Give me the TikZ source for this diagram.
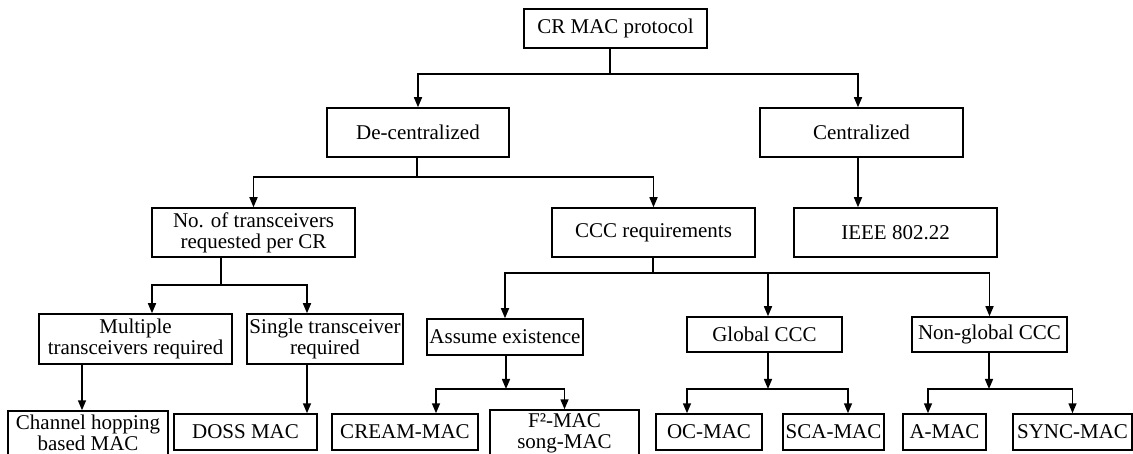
\documentclass[tikz,border=0pt]{standalone}
\usepackage{fontspec}
\setmainfont{Liberation Serif}
\usetikzlibrary{arrows.meta,positioning}

\begin{document}
\begin{tikzpicture}[
  x=1pt, y=-1pt,
  box/.style 2 args={draw, line width=1.5pt, align=center, inner sep=0pt,
    minimum width=#1pt, minimum height=#2pt, font=\fontsize{21}{21}\selectfont},
  arr/.style={-{Triangle[length=10pt,width=8pt]}, line width=1.5pt},
  ln/.style={line width=1.5pt}
]
  \useasboundingbox (0,0) rectangle (1133,454);
  \clip (0,0) rectangle (1133,454);

  \node[box={183}{39}] (root) at (615.5,28.5) {CR MAC protocol};
  \node[box={182}{49}] (dec) at (418,132.5) {De-centralized};
  \node[box={203}{49}] (cen) at (861.5,132.5) {Centralized};
  \node[box={203}{49}] (ntr) at (253.5,232.5) {No. of transceivers\\requested per CR};
  \node[box={203}{49}] (ccc) at (653.5,232.5) {CCC requirements};
  \node[box={203}{49}] (ieee) at (895.5,232.5) {IEEE 802.22};
  \node[box={193}{50}] (mul) at (135.5,339) {Multiple\\transceivers required};
  \node[box={156}{50}] (sgl) at (325,339) {Single transceiver\\required};
  \node[box={156}{36}] (ass) at (505,337) {Assume existence};
  \node[box={155}{35}] (glb) at (764.5,334.5) {Global CCC};
  \node[box={155}{35}] (ngl) at (989.5,334.5) {Non-global CCC};
  \node[box={160}{44}] (chop) at (88,433) {Channel hopping\\based MAC};
  \node[box={143}{36}] (doss) at (245.5,432) {DOSS MAC};
  \node[box={146}{36}] (cream) at (405,432) {CREAM-MAC};
  \node[box={149}{46}] (f2) at (564.5,433) {F²-MAC\\song-MAC};
  \node[box={106}{36}] (oc) at (709,432) {OC-MAC};
  \node[box={101}{36}] (sca) at (833.5,432) {SCA-MAC};
  \node[box={83}{36}] (amac) at (944.5,432) {A-MAC};
  \node[box={119}{36}] (sync) at (1072.5,432) {SYNC-MAC};

  \coordinate (j0) at (610,74);
  \coordinate (j1) at (417,177);
  \coordinate (j2) at (221,285);
  \coordinate (j3) at (653,273);
  \coordinate (j4) at (506,389);
  \coordinate (j5) at (768,389);
  \coordinate (j6) at (989,389);

  \draw[ln] (root.south -| j0) -- (j0);
  \draw[arr] (j0) -| (dec);
  \draw[arr] (j0) -| ([xshift=-3.5pt]cen.north);
  \draw[arr] ([xshift=-3.5pt]cen.south) -- ([xshift=-3.5pt]cen.south |- ieee.north);

  \draw[ln] (dec.south -| j1) -- (j1);
  \draw[arr] (j1) -| (ntr);
  \draw[arr] (j1) -| (ccc);

  \draw[ln] (ntr.south -| j2) -- (j2);
  \draw[arr] (j2) -| ([xshift=16.5pt]mul.north);
  \draw[arr] (j2) -| ([xshift=-18pt]sgl.north);
  \draw[arr] ([xshift=-6pt]chop.north |- mul.south) -- ([xshift=-6pt]chop.north);
  \draw[arr] ([xshift=-18pt]sgl.south) -- ([xshift=-18pt]sgl.south |- doss.north);

  \draw[ln] (ccc.south -| j3) -- (j3);
  \draw[arr] (j3) -| (ass);
  \draw[arr] (j3) -| ([xshift=3.5pt]glb.north);
  \draw[arr] (j3) -| (ngl);

  \draw[arr] (ass.south -| j4) -- (j4);
  \draw[arr] (j4) -| ([xshift=31pt]cream.north);
  \draw[arr] (j4) -| (f2);

  \draw[arr] (glb.south -| j5) -- (j5);
  \draw[arr] (j5) -| ([xshift=-22pt]oc.north);
  \draw[arr] (j5) -| ([xshift=14.5pt]sca.north);

  \draw[arr] (ngl.south -| j6) -- (j6);
  \draw[arr] (j6) -| ([xshift=-16.5pt]amac.north);
  \draw[arr] (j6) -| (sync);
\end{tikzpicture}
\end{document}
